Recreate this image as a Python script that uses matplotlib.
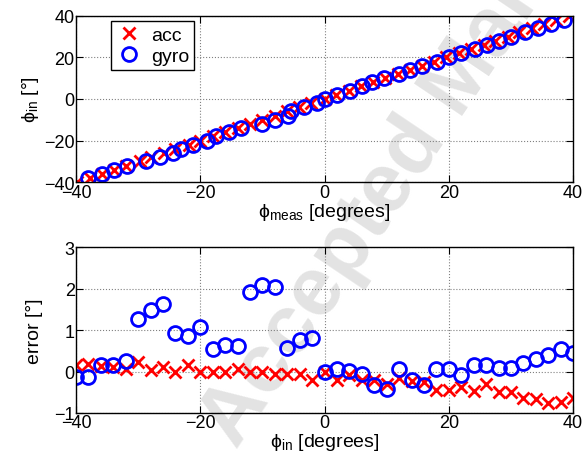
import numpy as np
import matplotlib
matplotlib.use('Agg')
import matplotlib.pyplot as plt

plt.rcParams['font.family'] = ['Liberation Sans', 'DejaVu Sans']
plt.rcParams['mathtext.fontset'] = 'custom'
plt.rcParams['mathtext.rm'] = 'Liberation Sans'
plt.rcParams['mathtext.it'] = 'Liberation Sans:italic'
plt.rcParams['font.size'] = 14

# Input angles (degrees)
phi_in = [-40, -38, -36, -34, -32, -30, -28, -26, -24, -22, -20,
          -18, -16, -14, -12, -10, -8, -6, -4, -2, 0,
          2, 4, 6, 8, 10, 12, 14, 16, 18, 20,
          22, 24, 26, 28, 30, 32, 34, 36, 38, 40]

# Measurement error per input angle (degrees)
acc_err = [0.15, 0.19, 0.14, 0.11, 0.05, 0.22, 0.03, 0.11, 0.0, 0.15, 0.0,
           0.0, 0.0, 0.07, 0.0, 0.0, -0.05, -0.05, -0.07, -0.2, 0.0,
           -0.2, -0.09, -0.2, -0.2, -0.29, -0.15, -0.23, -0.25, -0.45, -0.45,
           -0.37, -0.47, -0.3, -0.5, -0.49, -0.65, -0.67, -0.75, -0.73, -0.63]
gyro_err = [-0.13, -0.13, 0.15, 0.17, 0.25, 1.26, 1.48, 1.64, 0.92, 0.86, 1.08,
            0.55, 0.63, 0.62, 1.92, 2.08, 2.04, 0.57, 0.76, 0.81, 0.0,
            0.07, 0.02, -0.05, -0.33, -0.43, 0.06, -0.21, -0.33, 0.06, 0.06,
            -0.09, 0.17, 0.17, 0.09, 0.09, 0.21, 0.31, 0.39, 0.55, 0.46]

phi_in = np.array(phi_in, dtype=float)
acc_err = np.array(acc_err)
gyro_err = np.array(gyro_err)

# measured angle = input + error; points past the x-limits are dropped
acc_meas = phi_in + acc_err
gyro_meas = phi_in + gyro_err
acc_keep = np.abs(acc_meas) <= 40
gyro_keep = np.abs(gyro_meas) <= 40

acc_style = dict(linestyle='none', marker='x', color='red', markersize=9, markeredgewidth=2)
gyro_style = dict(linestyle='none', marker='o', markerfacecolor='none', markeredgecolor='blue',
                  markersize=10, markeredgewidth=2)

fig = plt.figure(figsize=(5.85, 4.64), dpi=100)

# background stamp
fig.text(0.405, 0.03, 'Accepted Manuscript', fontsize=60, fontweight='bold', color='#e3e3e3',
         rotation=56, rotation_mode='anchor', ha='left', va='baseline', zorder=-1)

ax1 = fig.add_axes([0.130, 0.605, 0.8496, 0.359])
ax2 = fig.add_axes([0.130, 0.1078, 0.8496, 0.357])

ax1.plot(acc_meas[acc_keep], phi_in[acc_keep], label='acc', **acc_style)
ax1.plot(gyro_meas[gyro_keep], phi_in[gyro_keep], label='gyro', **gyro_style)
ax1.set_xlim(-40, 40)
ax1.set_ylim(-40, 40)
ax1.set_xticks([-40, -20, 0, 20, 40])
ax1.set_yticks([-40, -20, 0, 20, 40])
ax1.set_xlabel(r'$\mathrm{\phi_{meas}}$ [degrees]', labelpad=0)
ax1.set_ylabel(r'$\mathrm{\phi_{in}}$ [°]', labelpad=2)
leg = ax1.legend(loc='upper left', bbox_to_anchor=(0.07, 0.968), borderaxespad=0,
                 fancybox=False, edgecolor='black', framealpha=1, handletextpad=0.4,
                 borderpad=0.25, labelspacing=0.2, handlelength=1.4, fontsize=14)
leg.get_frame().set_linewidth(1.0)

ax2.plot(phi_in, acc_err, **acc_style)
ax2.plot(phi_in, gyro_err, **gyro_style)
ax2.set_xlim(-40, 40)
ax2.set_ylim(-1, 3)
ax2.set_xticks([-40, -20, 0, 20, 40])
ax2.set_yticks([-1, 0, 1, 2, 3])
ax2.set_xlabel(r'$\mathrm{\phi_{in}}$ [degrees]', labelpad=0)
ax2.set_ylabel('error [°]', labelpad=8)

for ax in (ax1, ax2):
    ax.set_facecolor('none')
    ax.grid(True, linestyle=':', color='#808080', linewidth=0.8)
    ax.tick_params(direction='in', top=True, right=True, length=5, width=0.8, pad=1, labelsize=13)
    for sp in ax.spines.values():
        sp.set_linewidth(1.0)

fig.savefig('out.png', dpi=100, facecolor='white')
